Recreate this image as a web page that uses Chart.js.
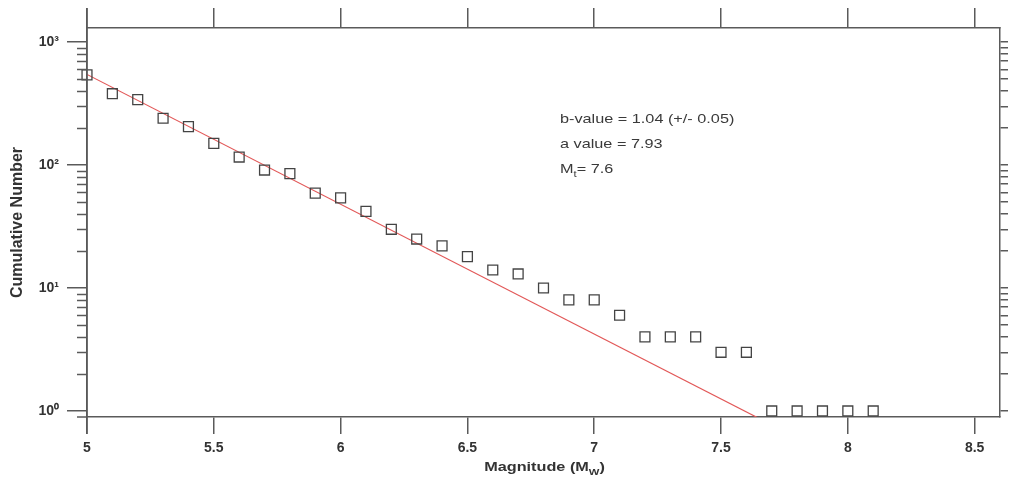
<!DOCTYPE html>
<html>
<head>
<meta charset="utf-8">
<script src="https://cdn.jsdelivr.net/npm/chart.js@4.4.1/dist/chart.umd.min.js"></script>
<style>
  html, body { margin: 0; padding: 0; background: #fff; }
  #wrap { width: 1010px; height: 485px; }
</style>
</head>
<body>
<div id="wrap"><canvas id="chart"></canvas></div>
<script>
// magnitude-frequency data (cumulative)
const magnitudes = [5.0, 5.1, 5.2, 5.3, 5.4, 5.5, 5.6, 5.7, 5.8, 5.9,
                    6.0, 6.1, 6.2, 6.3, 6.4, 6.5, 6.6, 6.7, 6.8, 6.9,
                    7.0, 7.1, 7.2, 7.3, 7.4, 7.5, 7.6, 7.7, 7.8, 7.9, 8.0, 8.1];
const cumulativeCounts = [540, 380, 340, 240, 205, 150, 116, 91, 85, 59,
                          54, 42, 30, 25, 22, 18, 14, 13, 10, 8,
                          8, 6, 4, 4, 4, 3, 3, 1, 1, 1, 1, 1];

// Gutenberg-Richter fit line end points
const fitMagnitudes = [5.0, 7.7];
const fitCounts = [545, 0.77];

const xTickValues = [5, 5.5, 6, 6.5, 7, 7.5, 8, 8.5];
const xTickLabels = ['5', '5.5', '6', '6.5', '7', '7.5', '8', '8.5'];
const yMajorTicks = [1, 10, 100, 1000];
const yTickLabels = ['10\u2070', '10\u00b9', '10\u00b2', '10\u00b3'];
const yMinorTicks = [2, 3, 4, 5, 6, 7, 8, 9, 20, 30, 40, 50, 60, 70, 80, 90,
                     200, 300, 400, 500, 600, 700, 800, 900];
const statsLines = ['b-value = 1.04 (+/- 0.05)', 'a value = 7.93'];

const axisColor = '#5a5a5a';
const textColor = '#333';
const fontFamily = '"Liberation Sans", Arial, sans-serif';

function drawLine(ctx, x1, y1, x2, y2) {
  ctx.beginPath();
  ctx.moveTo(x1, y1);
  ctx.lineTo(x2, y2);
  ctx.stroke();
}

// minor ticks, axis extensions, x title with subscript, fit stats
const axisExtras = {
  id: 'axisExtras',
  afterDraw(chart) {
    const { ctx, chartArea: a, scales: { y } } = chart;
    ctx.save();
    ctx.strokeStyle = axisColor;
    ctx.lineWidth = 1.5;
    yMinorTicks.forEach(v => {
      const py = Math.round(y.getPixelForValue(v)) + 0.5;
      drawLine(ctx, a.left - 10, py, a.left, py);
    });
    drawLine(ctx, a.left, a.top - 20, a.left, a.bottom + 17);
    drawLine(ctx, a.left - 10, a.bottom, a.left, a.bottom);

    // x axis title: Magnitude (M_W)
    ctx.fillStyle = textColor;
    ctx.textBaseline = 'alphabetic';
    const sx = 1.25;
    const big = 'bold 13px ' + fontFamily;
    const small = 'bold 9px ' + fontFamily;
    ctx.font = big;
    const w1 = ctx.measureText('Magnitude (M').width;
    const w3 = ctx.measureText(')').width;
    ctx.font = small;
    const w2 = ctx.measureText('W').width;
    const total = (w1 + w2 + w3) * sx;
    const cx = (a.left + a.right) / 2 - total / 2 + 1;
    const by = 471;
    ctx.save();
    ctx.translate(cx, by);
    ctx.scale(sx, 1);
    ctx.font = big;
    ctx.fillText('Magnitude (M', 0, 0);
    ctx.font = small;
    ctx.fillText('W', w1, 4);
    ctx.font = big;
    ctx.fillText(')', w1 + w2, 0);
    ctx.restore();

    // fit statistics
    ctx.fillStyle = '#3a3a3a';
    const tx = a.left + 473;
    const ty = a.top + 95;
    const reg = '13px ' + fontFamily;
    ctx.save();
    ctx.translate(tx, ty);
    ctx.scale(sx, 1);
    ctx.font = reg;
    statsLines.forEach((s, i) => ctx.fillText(s, 0, i * 25));
    const mw = ctx.measureText('M').width;
    ctx.fillText('M', 0, 50);
    ctx.font = '9px ' + fontFamily;
    ctx.fillText('t', mw, 54);
    const tw = ctx.measureText('t').width;
    ctx.font = reg;
    ctx.fillText('= 7.6', mw + tw, 50);
    ctx.restore();
    ctx.restore();
  }
};

new Chart(document.getElementById('chart'), {
  type: 'scatter',
  data: {
    datasets: [
      {
        type: 'line',
        label: 'fit',
        data: fitMagnitudes.map((m, i) => ({ x: m, y: fitCounts[i] })),
        borderColor: 'rgb(226, 88, 88)',
        borderWidth: 1.2,
        pointRadius: 0,
        fill: false,
        order: 2
      },
      {
        label: 'cumulative',
        data: magnitudes.map((m, i) => ({ x: m, y: cumulativeCounts[i] })),
        pointStyle: 'rect',
        pointRadius: 7,
        pointBorderWidth: 1.3,
        pointBorderColor: '#444',
        pointBackgroundColor: 'rgba(255,255,255,0)',
        clip: false,
        order: 1
      }
    ]
  },
  options: {
    responsive: true,
    maintainAspectRatio: false,
    animation: false,
    layout: { padding: 0 },
    plugins: { legend: { display: false }, tooltip: { enabled: false } },
    scales: {
      x: {
        type: 'linear',
        position: 'bottom',
        min: 5,
        max: 8.6,
        afterBuildTicks: s => { s.ticks = xTickValues.map(v => ({ value: v })); },
        afterFit: s => { s.height = 68; },
        grid: { drawOnChartArea: false, tickLength: 17, color: axisColor, lineWidth: 1.5 },
        border: { color: axisColor, width: 1.5 },
        ticks: {
          padding: 6,
          maxRotation: 0,
          color: textColor,
          font: { family: fontFamily, size: 14, weight: 'bold' },
          callback: v => xTickLabels[xTickValues.indexOf(v)]
        }
      },
      x2: {
        type: 'linear',
        position: 'top',
        min: 5,
        max: 8.6,
        afterBuildTicks: s => { s.ticks = xTickValues.map(v => ({ value: v })); },
        afterFit: s => { s.height = 28; },
        grid: { drawOnChartArea: false, tickLength: 20, color: axisColor, lineWidth: 1.5 },
        border: { color: axisColor, width: 1.5 },
        ticks: { display: false }
      },
      y: {
        type: 'logarithmic',
        position: 'left',
        min: 0.893,
        max: 1300,
        afterBuildTicks: s => { s.ticks = yMajorTicks.map(v => ({ value: v })); },
        afterFit: s => { s.width = 87; },
        grid: { drawOnChartArea: false, tickLength: 20, color: axisColor, lineWidth: 1.5 },
        border: { color: axisColor, width: 1.5 },
        ticks: {
          padding: 8,
          color: textColor,
          font: { family: fontFamily, size: 14, weight: 'bold' },
          callback: v => yTickLabels[yMajorTicks.indexOf(v)]
        },
        title: {
          display: true,
          text: 'Cumulative Number',
          color: textColor,
          font: { family: fontFamily, size: 16, weight: 'bold' },
          padding: { top: 8, bottom: 0 }
        }
      },
      y2: {
        type: 'logarithmic',
        position: 'right',
        min: 0.893,
        max: 1300,
        afterBuildTicks: s => {
          s.ticks = yMajorTicks.concat(yMinorTicks).sort((p, q) => p - q).map(v => ({ value: v }));
        },
        afterFit: s => { s.width = 10; },
        grid: { drawOnChartArea: false, tickLength: 8, color: axisColor, lineWidth: 1.5 },
        border: { color: axisColor, width: 1.5 },
        ticks: { display: false }
      }
    }
  },
  plugins: [axisExtras]
});
</script>
</body>
</html>
